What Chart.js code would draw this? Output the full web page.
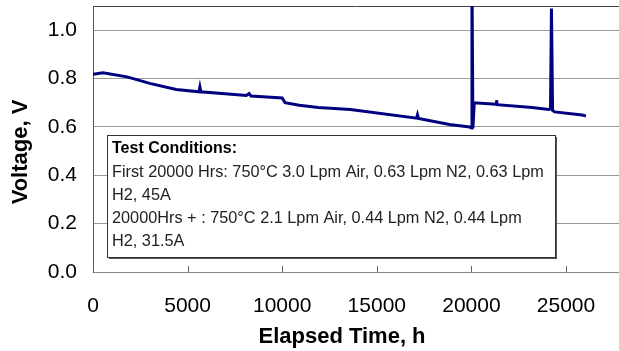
<!DOCTYPE html>
<html>
<head>
<meta charset="utf-8">
<script src="https://cdn.jsdelivr.net/npm/chart.js@4.4.0/dist/chart.umd.min.js"></script>
<style>
  body { margin: 0; background: #fff; }
  #wrap { width: 619px; height: 351px; }
</style>
</head>
<body>
<div id="wrap"><canvas id="myChart"></canvas></div>
<script>
// elapsed time (h) and cell voltage (V)
const hours = [0, 530, 1800, 3000, 4400, 5600, 5650, 5700, 8100, 8250, 8350, 10000, 10150, 10900, 11900,
  13600, 17100, 17150, 17200, 18850, 19900, 20000, 20030, 20080, 20150, 21300, 21330, 21360,
  23200, 24100, 24180, 24230, 24290, 24400, 25850, 26050];
const volts = [0.818, 0.824, 0.807, 0.78, 0.755, 0.745, 0.765, 0.745, 0.73, 0.738, 0.728, 0.72, 0.70, 0.69, 0.68,
  0.672, 0.636, 0.65, 0.635, 0.61, 0.60, 0.595, 1.2, 0.595, 0.70, 0.694, 0.71, 0.692,
  0.68, 0.672, 0.675, 1.09, 0.668, 0.662, 0.649, 0.645];
const xTicks = [0, 5000, 10000, 15000, 20000, 25000];
const yTicks = [0, 0.2, 0.4, 0.6, 0.8, 1.0];
const boxTitle = 'Test Conditions:';
const boxLines = [
  'First 20000 Hrs: 750°C 3.0 Lpm Air, 0.63 Lpm N2, 0.63 Lpm',
  'H2, 45A',
  '20000Hrs + : 750°C 2.1 Lpm Air, 0.44 Lpm N2, 0.44 Lpm',
  'H2, 31.5A'
];

const ctx = document.getElementById('myChart');

const extras = {
  id: 'extras',
  afterDraw: (chart) => {
    const { ctx, chartArea: a, scales } = chart;
    ctx.save();
    // inside tick marks on x axis
    ctx.strokeStyle = '#666';
    ctx.lineWidth = 1;
    xTicks.forEach(t => {
      const x = Math.round(scales.x.getPixelForValue(t)) + 0.5;
      ctx.beginPath();
      ctx.moveTo(x, a.bottom);
      ctx.lineTo(x, a.bottom - 6);
      ctx.stroke();
    });
    // annotation box
    const bx = 107, by = 135, bw = 448, bh = 122;
    ctx.fillStyle = '#555';
    ctx.fillRect(bx + 2, by + 2, bw, bh);
    ctx.fillStyle = '#fff';
    ctx.fillRect(bx, by, bw, bh);
    ctx.strokeStyle = '#333';
    ctx.strokeRect(bx + 0.5, by + 0.5, bw, bh);
    ctx.fillStyle = '#000';
    ctx.textBaseline = 'middle';
    ctx.textAlign = 'left';
    ctx.font = 'bold 16px "Liberation Sans", Arial, sans-serif';
    ctx.fillText(boxTitle, 112, 149);
    ctx.fillStyle = '#222';
    ctx.font = '16.3px "Liberation Sans", Arial, sans-serif';
    boxLines.forEach((s, i) => ctx.fillText(s, 112, 173 + i * 22.7));
    // axis titles
    ctx.fillStyle = '#000';
    ctx.textAlign = 'center';
    ctx.font = 'bold 22px "Liberation Sans", Arial, sans-serif';
    ctx.fillText('Elapsed Time, h', 342, 337);
    ctx.translate(21, 152);
    ctx.rotate(-Math.PI / 2);
    ctx.fillText('Voltage, V', 0, 0);
    ctx.restore();
  }
};

new Chart(ctx, {
  type: 'line',
  data: {
    datasets: [{
      data: hours.map((h, i) => ({ x: h, y: volts[i] })),
      borderColor: '#000080',
      borderWidth: 3,
      pointRadius: 0,
      tension: 0
    }]
  },
  options: {
    responsive: true,
    maintainAspectRatio: false,
    animation: false,
    layout: { padding: { top: 6, right: 0, left: 0, bottom: 0 } },
    plugins: { legend: { display: false }, tooltip: { enabled: false } },
    scales: {
      x: {
        type: 'linear',
        min: 0,
        max: 27800,
        afterBuildTicks: (s) => { s.ticks = xTicks.map(v => ({ value: v })); },
        afterFit: (s) => { s.height = 79; s.paddingLeft = 0; s.paddingRight = 0; },
        grid: { display: false, drawTicks: false },
        border: { color: '#888', width: 1 },
        ticks: {
          padding: 22,
          color: '#000',
          maxRotation: 0,
          callback: (v) => String(v),
          font: { family: '"Liberation Sans", Arial, sans-serif', size: 21 }
        }
      },
      y: {
        min: 0,
        max: 1.1,
        afterBuildTicks: (s) => { s.ticks = yTicks.concat([1.1]).map(v => ({ value: v })); },
        afterFit: (s) => { s.width = 93; s.paddingTop = 0; s.paddingBottom = 0; },
        grid: { color: (c) => c.tick && c.tick.value === 1.1 ? '#444' : '#999', drawTicks: false },
        border: { color: '#555', width: 1 },
        ticks: {
          padding: 16,
          color: '#000',
          callback: (v) => v > 1.05 ? '' : v.toFixed(1),
          font: { family: '"Liberation Sans", Arial, sans-serif', size: 21 }
        }
      }
    }
  },
  plugins: [extras]
});
</script>
</body>
</html>
